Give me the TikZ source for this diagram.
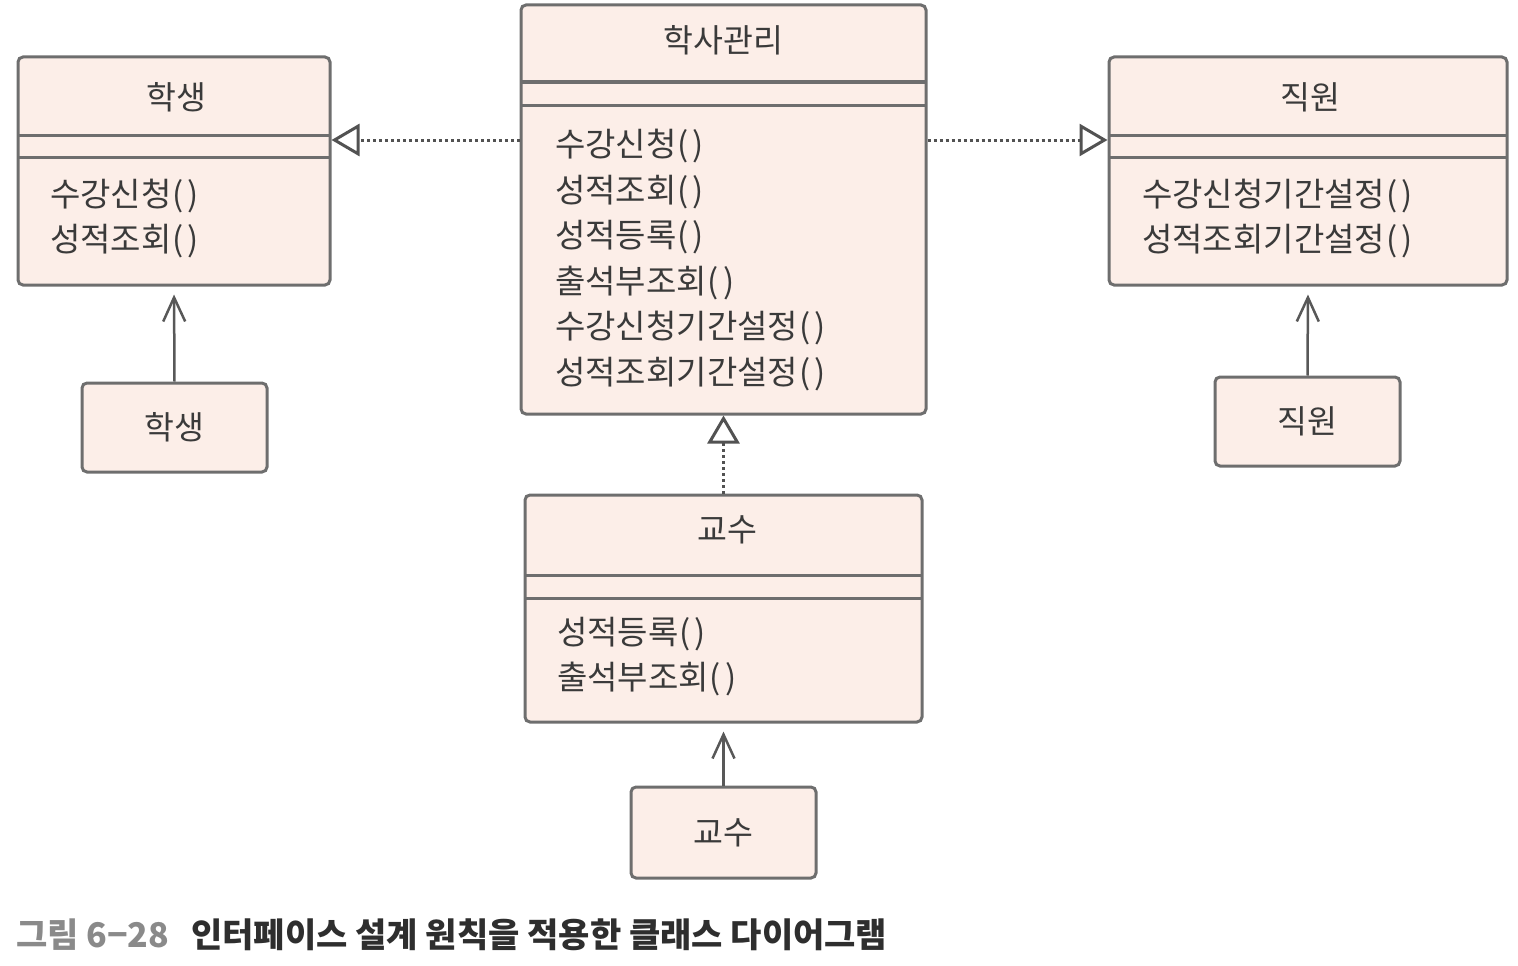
\documentclass[tikz,border=0pt]{standalone}
\usepackage{fontspec}
\setmainfont{Noto Sans CJK KR}
\newfontfamily\capfont{Noto Sans CJK KR}
\usetikzlibrary{arrows.meta}
\definecolor{boxfill}{HTML}{FCEEE8}
\definecolor{boxline}{HTML}{6E6E6E}
\definecolor{txt}{HTML}{3A3A3A}
\definecolor{capgray}{HTML}{8A8A8A}
\definecolor{capdark}{HTML}{2E2E2E}
\newcommand{\pp}{\kern1pt(\kern4pt)}
\tikzset{
  cls/.style={draw=boxline, fill=boxfill, line width=3pt, rounded corners=5pt, inner sep=0pt},
  div/.style={draw=boxline, line width=3pt},
  ttl/.style={text=txt, font=\fontsize{32.5}{38}\selectfont, inner sep=0pt},
  mth/.style={text=txt, font=\fontsize{33}{45.5}\selectfont, align=left, anchor=west, inner sep=0pt},
  realize/.style={draw=boxline!75!black, line width=3pt, dash pattern=on 3pt off 3pt,
     -{Triangle[open, length=28pt, width=32pt, line width=3pt, sep=0pt]}},
  assoc/.style={draw=boxline!80!black, line width=2.5pt, shorten >=8pt,
     -{Straight Barb[length=24pt, width=22pt, line width=2.5pt]}},
}
\begin{document}
\begin{tikzpicture}[x=1pt,y=-1pt]
\useasboundingbox (0,0) rectangle (1518,966);

% class boxes
\node[cls, minimum width=312pt, minimum height=228pt] (stu) at (174,171) {};
\node[cls, minimum width=405pt, minimum height=409pt] (mgmt) at (723.5,209.5) {};
\node[cls, minimum width=398pt, minimum height=228pt] (staff) at (1308,171) {};
\node[cls, minimum width=397pt, minimum height=227pt] (prof) at (723.5,608.5) {};

% compartment dividers
\draw[div] (18,135) -- (330,135);
\draw[div] (18,157) -- (330,157);
\draw[div] (521,82) -- (926,82);
\draw[div] (521,105) -- (926,105);
\draw[div] (1109,135) -- (1507,135);
\draw[div] (1109,157) -- (1507,157);
\draw[div] (525,575) -- (922,575);
\draw[div] (525,598) -- (922,598);

% small boxes
\node[cls, minimum width=185pt, minimum height=89pt, ttl] (stuS) at (174.5,427.5) {학생};
\node[cls, minimum width=185pt, minimum height=89pt, ttl] (staffS) at (1307.5,421.5) {직원};
\node[cls, minimum width=185pt, minimum height=91pt, ttl] (profS) at (723.5,832.5) {교수};

% titles
\node[ttl] (stuT) at (176,97) {학생};
\node[ttl] (mgmtT) at (723.5,40) {학사관리};
\node[ttl] (staffT) at (1310,97) {직원};
\node[ttl] (profT) at (727,530) {교수};

% methods
\node[mth] (stuM) at (50,218.5) {수강신청\pp\\성적조회\pp};
\node[mth] (mgmtM) at (555,260) {수강신청\pp\\성적조회\pp\\성적등록\pp\\출석부조회\pp\\수강신청기간설정\pp\\성적조회기간설정\pp};
\node[mth] (staffM) at (1142,218.5) {수강신청기간설정\pp\\성적조회기간설정\pp};
\node[mth] (profM) at (557,656.5) {성적등록\pp\\출석부조회\pp};

% realization connectors
\draw[realize] ([yshift=-1.5pt]mgmt.west |- stu.north) ++(0,83) coordinate (mL) -- (mL -| stu.east);
\draw[realize] ([yshift=-1.5pt]mgmt.east |- staff.north) ++(0,83) coordinate (mR) -- (mR -| staff.west);
\draw[realize] (prof.north) -- (mgmt.south);

% association connectors
\draw[assoc] (stuS.north) -- (stu.south);
\draw[assoc] (staffS.north) -- (staff.south);
\draw[assoc] (profS.north) -- (prof.south);

% caption
\node[anchor=west, inner sep=0pt, font=\capfont\bfseries\fontsize{34}{40}\selectfont] (cap) at (16,935)
  {\textcolor{capgray}{그림 6−28}\hspace{22pt}\textcolor{capdark}{인터페이스 설계 원칙을 적용한 클래스 다이어그램}};
\end{tikzpicture}
\end{document}
